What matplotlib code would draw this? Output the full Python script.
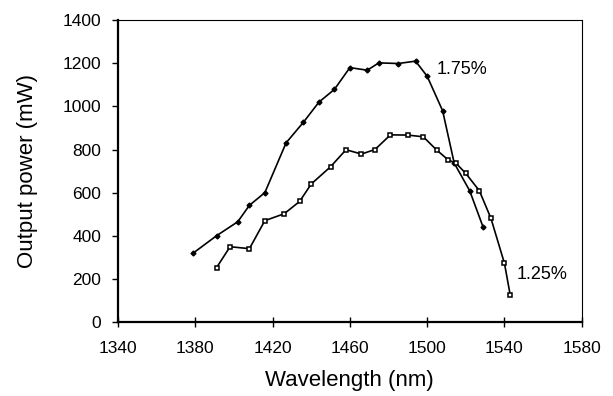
import matplotlib
matplotlib.use('Agg')
import matplotlib.pyplot as plt

plt.rcParams['font.family'] = ['Liberation Sans', 'DejaVu Sans']

# 1.75% ドープ
wl_175 = [1379, 1391, 1402, 1408, 1416, 1427, 1436, 1444, 1452, 1460,
          1469, 1475, 1485, 1494, 1500, 1508, 1514, 1522, 1529]
pw_175 = [320, 400, 465, 541, 600, 831, 927, 1020, 1079, 1180,
          1168, 1202, 1199, 1210, 1140, 980, 737, 609, 439]

# 1.25% ドープ
wl_125 = [1391, 1398, 1408, 1416, 1426, 1434, 1440, 1450, 1458, 1466,
          1473, 1481, 1490, 1498, 1505, 1511, 1515, 1520, 1527, 1533,
          1540, 1543]
pw_125 = [252, 349, 340, 470, 502, 559, 640, 720, 799, 779,
          800, 868, 867, 859, 797, 751, 736, 689, 609, 481,
          272, 124]

xticks = [1340, 1380, 1420, 1460, 1500, 1540, 1580]
yticks = [0, 200, 400, 600, 800, 1000, 1200, 1400]

fig = plt.figure(figsize=(6.13, 3.96), dpi=100)
ax = fig.add_axes([0.1925, 0.187, 0.7565, 0.762])

ax.plot(wl_175, pw_175, color='black', linewidth=1.2, marker='D',
        markersize=2.5, markerfacecolor='black')
ax.plot(wl_125, pw_125, color='black', linewidth=1.2, marker='s',
        markersize=3.3, markerfacecolor='white', markeredgewidth=1.1)

ax.text(1505, 1173, '1.75%', fontsize=13, va='center', ha='left')
ax.text(1546.5, 218, '1.25%', fontsize=13, va='center', ha='left')

ax.set_xlim(1340, 1580)
ax.set_ylim(0, 1400)
ax.set_xticks(xticks)
ax.set_yticks(yticks)
ax.tick_params(axis='x', direction='inout', length=7, width=1, labelsize=12.5, pad=10)
ax.tick_params(axis='y', direction='out', length=4, width=1, labelsize=12.5, pad=8)

for side in ['left', 'bottom']:
    ax.spines[side].set_linewidth(1.6)
for side in ['top', 'right']:
    ax.spines[side].set_linewidth(0.8)

ax.set_xlabel('Wavelength (nm)', fontsize=16, labelpad=10)
ax.set_ylabel('Output power (mW)', fontsize=16, labelpad=18)

fig.savefig('out.png', dpi=100)
